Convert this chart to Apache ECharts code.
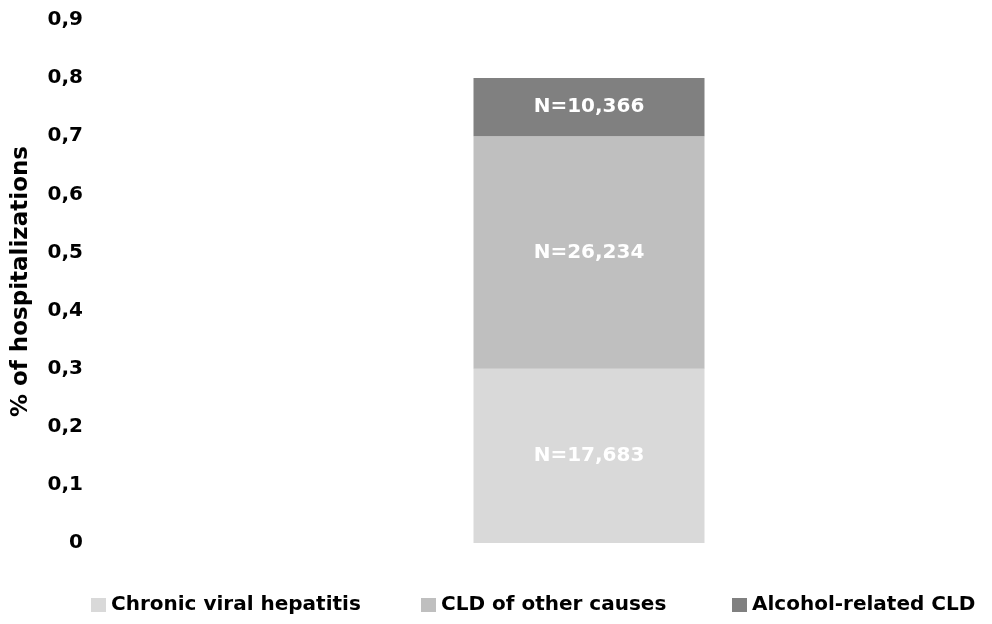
<!DOCTYPE html>
<html><head><meta charset="utf-8">
<script src="https://cdn.jsdelivr.net/npm/echarts@6/dist/echarts.min.js"></script>
<style>html,body{margin:0;padding:0;background:#fff}#c{width:992px;height:624px}</style>
</head><body><div id="c"></div>
<script>
const categories = ['All'];
const seriesNames = ['Chronic viral hepatitis', 'CLD of other causes', 'Alcohol-related CLD'];
const seriesValues = [[0.3], [0.4], [0.1]];
const seriesLabels = ['N=17,683', 'N=26,234', 'N=10,366'];
const colors = ['#d9d9d9', '#bfbfbf', '#808080'];
const FONT = 'DejaVu Sans';

const chart = echarts.init(document.getElementById('c'));
const legendLefts = [91, 421, 732];
chart.setOption({
  animation: false,
  textStyle: { fontFamily: FONT },
  grid: { left: 189, right: 3, top: 20, bottom: 81 },
  legend: seriesNames.map((n, i) => ({
    data: [n], left: legendLefts[i], top: 595, padding: 0, icon: 'rect', itemWidth: 15, itemHeight: 14, itemGap: 6,
    textStyle: { fontFamily: FONT, fontWeight: 'bold', fontSize: 20, color: '#000' }
  })),
  xAxis: { type: 'category', data: categories, axisLine: { show: false }, axisTick: { show: false }, axisLabel: { show: false } },
  yAxis: {
    type: 'value', min: 0, max: 0.9, interval: 0.1,
    name: '% of hospitalizations', nameLocation: 'middle', nameGap: 156,
    nameTextStyle: { fontFamily: FONT, fontWeight: 'bold', fontSize: 23, color: '#000' },
    splitLine: { show: false }, axisLine: { show: false }, axisTick: { show: false },
    axisLabel: { margin: 106, fontFamily: FONT, fontWeight: 'bold', fontSize: 20, color: '#000',
      formatter: v => v === 0 ? '0' : v.toFixed(1).replace('.', ',') }
  },
  series: seriesNames.map((n, i) => ({
    name: n, type: 'bar', stack: 'a', data: seriesValues[i], barWidth: 231,
    itemStyle: { color: colors[i] },
    label: { show: true, position: 'inside', formatter: seriesLabels[i], color: '#fff', fontFamily: FONT, fontWeight: 'bold', fontSize: 20 }
  }))
});
</script></body></html>
